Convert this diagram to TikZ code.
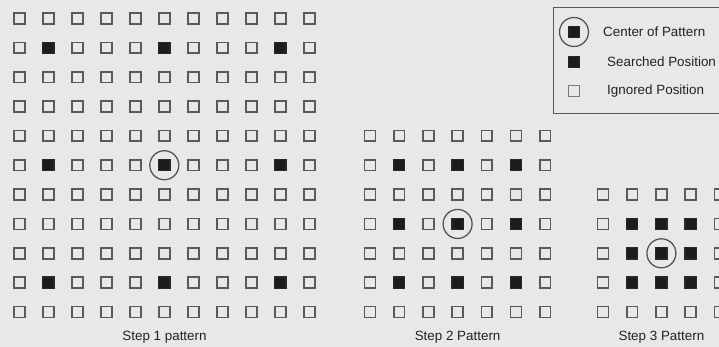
\documentclass[tikz,border=0pt]{standalone}
\usepackage{fontspec}
\setmainfont{Liberation Sans}
\definecolor{bg}{HTML}{E8E8E8}
\definecolor{cellgray}{HTML}{5A5A5A}
\definecolor{darkfill}{HTML}{1C1C1C}
\definecolor{ringgray}{HTML}{555555}
\definecolor{txt}{HTML}{222222}
\begin{document}
\begin{tikzpicture}[x=1pt,y=-1pt,
  cell/.style={draw=cellgray, line width=1.6pt, fill=bg, minimum size=10.8pt, inner sep=0pt, rectangle},
  srch/.style={draw=darkfill!80!cellgray, line width=1.2pt, fill=darkfill, minimum size=11.2pt, inner sep=0pt, rectangle},
  ring/.style={circle, draw=ringgray, line width=1.3pt, minimum size=29pt, inner sep=0pt},
  lbl/.style={text=txt, font=\fontsize{13.4}{16}\selectfont, inner sep=0pt},
  legbox/.style={draw=cellgray, line width=0.9pt, rectangle, inner sep=0pt, anchor=north west}]
\fill[bg] (0,0) rectangle (719,347);
\useasboundingbox (0,0) rectangle (719,347);
% Step 1 grid: 11 x 11
\foreach \i in {0,...,10} {
  \foreach \j in {0,...,10} {
    \pgfmathsetmacro\xx{19.3+29.0*\j}
    \pgfmathsetmacro\yy{18.5+29.35*\i}
    \pgfmathtruncatemacro\s{(mod(\i,4)==1)&&(mod(\j,4)==1)}
    \ifnum\s=1 \def\st{srch}\else\def\st{cell}\fi
    \node[\st] (a-\i-\j) at (\xx,\yy) {};
  }
}
% Step 2 grid: 7 x 7
\foreach \i in {0,...,6} {
  \foreach \j in {0,...,6} {
    \pgfmathsetmacro\xx{370+29.2*\j}
    \pgfmathsetmacro\yy{18.5+29.35*(\i+4)}
    \pgfmathtruncatemacro\s{(mod(\i,2)==1)&&(mod(\j,2)==1)}
    \ifnum\s=1 \def\st{srch}\else\def\st{cell}\fi
    \node[\st] (b-\i-\j) at (\xx,\yy) {};
  }
}
% Step 3 grid: 5 x 5
\foreach \i in {0,...,4} {
  \foreach \j in {0,...,4} {
    \pgfmathsetmacro\xx{603+29.2*\j}
    \pgfmathsetmacro\yy{18.5+29.35*(\i+6)}
    \pgfmathtruncatemacro\s{(\i>0)&&(\i<4)&&(\j>0)&&(\j<4)}
    \ifnum\s=1 \def\st{srch}\else\def\st{cell}\fi
    \node[\st] (c-\i-\j) at (\xx,\yy) {};
  }
}
% centre rings
\node[ring] (ra) at (a-5-5) {};
\node[ring] (rb) at (b-3-3) {};
\node[ring] (rc) at (c-2-2) {};
% labels
\node[lbl] (la) at (164.5,337) {Step 1 pattern};
\node[lbl] (lb) at (457.6,337) {Step 2 Pattern};
\node[lbl] (lc) at (661.4,337) {Step 3 Pattern};
% legend
\node[legbox, minimum width=190pt, minimum height=106pt] (leg) at (553,7) {};
\node[srch] (k1) at (574,32) {};
\node[ring] (k1r) at (k1) {};
\node[srch] (k2) at (574,62) {};
\node[cell, line width=1.1pt, draw=cellgray!80] (k3) at (574,91) {};
\node[lbl, anchor=west] (t1) at (603,32) {Center of Pattern};
\node[lbl, anchor=west] (t2) at (607,62) {Searched Position};
\node[lbl, anchor=west] (t3) at (607,91) {Ignored Position};
\end{tikzpicture}
\end{document}
